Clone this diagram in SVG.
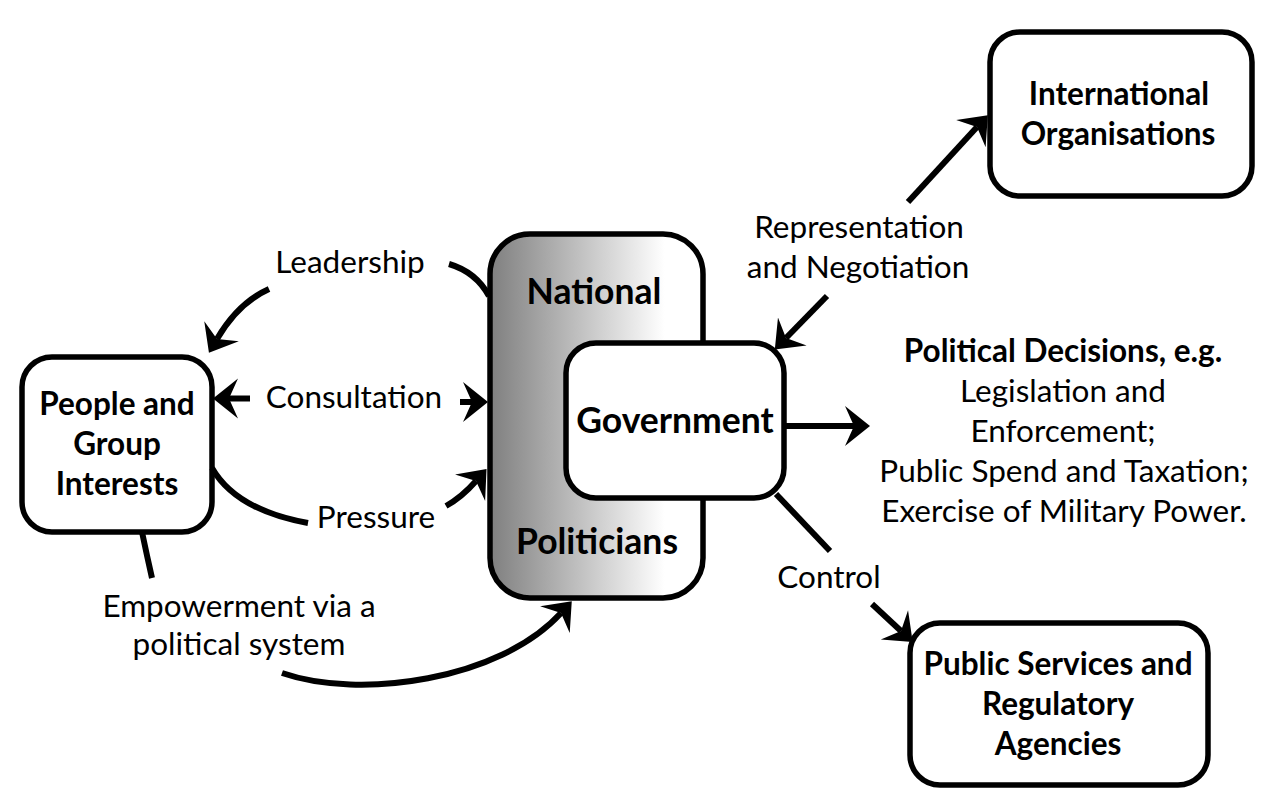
<svg xmlns="http://www.w3.org/2000/svg" width="1279" height="794" viewBox="0 0 1279 794">
<style>
.box{fill:#fff;stroke:#000;stroke-width:5.5}
.lbl{font-family:Lato,"Open Sans","Liberation Sans",sans-serif;font-size:31.5px;fill:#000;text-anchor:middle}
.bold{font-family:Lato,"Open Sans","Liberation Sans",sans-serif;font-size:31.5px;font-weight:bold;fill:#000;text-anchor:middle}
.big{font-size:35.5px}
.con{fill:none;stroke:#000;stroke-width:6}
</style>
<defs>
<linearGradient id="grad" x1="0" y1="0" x2="1" y2="0">
<stop offset="0" stop-color="#7f7f7f"/>
<stop offset="0.82" stop-color="#ffffff"/>
<stop offset="1" stop-color="#ffffff"/>
</linearGradient>
<marker id="ah" markerUnits="userSpaceOnUse" viewBox="-12 -22 30 44" markerWidth="30" markerHeight="44" refX="0" refY="0" orient="auto">
<path d="M16,0 L-9,-20 L0,0 L-9,20 Z" fill="#000"/>
</marker>
</defs>
<rect width="1279" height="794" fill="#fff"/>

<g id="national">
<rect x="490" y="234" width="213" height="364" rx="40" fill="url(#grad)" stroke="#000" stroke-width="5.5"/>
<text class="bold big" x="594" y="304">National</text>
<text class="bold big" x="597" y="554">Politicians</text>
</g>
<g id="government">
<rect class="box" x="566" y="343" width="218" height="155" rx="30"/>
<text class="bold big" x="675" y="433">Government</text>
</g>
<g id="people">
<rect class="box" x="22" y="357" width="190" height="175" rx="30"/>
<text class="bold" x="117" y="415">People and</text>
<text class="bold" x="117" y="455">Group</text>
<text class="bold" x="117" y="495">Interests</text>
</g>
<g id="international">
<rect class="box" x="990" y="32" width="262" height="164" rx="30"/>
<text class="bold" x="1119" y="105">International</text>
<text class="bold" x="1118" y="145">Organisations</text>
</g>
<g id="public">
<rect class="box" x="910" y="623" width="298" height="162" rx="30"/>
<text class="bold" x="1058" y="675">Public Services and</text>
<text class="bold" x="1058" y="715">Regulatory</text>
<text class="bold" x="1058" y="755">Agencies</text>
</g>
<g id="decisions">
<text class="bold" x="1063" y="362">Political Decisions, e.g.</text>
<text class="lbl" x="1063" y="402">Legislation and</text>
<text class="lbl" x="1063" y="442">Enforcement;</text>
<text class="lbl" x="1064" y="482">Public Spend and Taxation;</text>
<text class="lbl" x="1064" y="522">Exercise of Military Power.</text>
</g>

<g id="connectors">
<path class="con" d="M449,264 Q476,272 489,296"/>
<path class="con" d="M269,289 Q238,303 217,339" marker-end="url(#ah)"/>
<path class="con" d="M250,398.5 L229,398.5" marker-end="url(#ah)"/>
<path class="con" d="M460,402 L472,402" marker-end="url(#ah)"/>
<path class="con" d="M212,468 Q236,510 308,523"/>
<path class="con" d="M446,506 Q462,497 476,481" marker-end="url(#ah)"/>
<path class="con" d="M142,532 Q147,556 152,578"/>
<path class="con" d="M282,673 C360,700 500,680 561,613" marker-end="url(#ah)"/>
<path class="con" d="M908,202 L977,127" marker-end="url(#ah)"/>
<path class="con" d="M827,296 L786,338" marker-end="url(#ah)"/>
<path class="con" d="M784,426 L854,426" marker-end="url(#ah)"/>
<path class="con" d="M776,494 L830,551"/>
<path class="con" d="M872,604 L901,631" marker-end="url(#ah)"/>
<text class="lbl" x="350" y="273">Leadership</text>
<text class="lbl" x="354" y="408">Consultation</text>
<text class="lbl" x="376" y="528">Pressure</text>
<text class="lbl" x="239" y="617">Empowerment via a</text>
<text class="lbl" x="239" y="655">political system</text>
<text class="lbl" x="859" y="238">Representation</text>
<text class="lbl" x="858" y="278">and Negotiation</text>
<text class="lbl" x="829" y="588">Control</text>
</g>
</svg>
